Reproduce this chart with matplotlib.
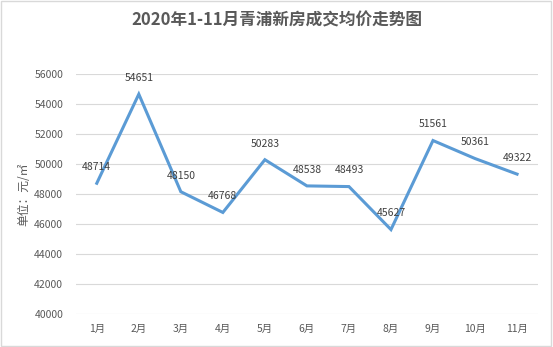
import matplotlib.pyplot as plt
from matplotlib.patches import Rectangle

plt.rcParams['font.family'] = ['Noto Sans CJK SC', 'DejaVu Sans']

months = ['1月', '2月', '3月', '4月', '5月', '6月', '7月', '8月', '9月', '10月', '11月']
prices = [48714, 54651, 48150, 46768, 50283, 48538, 48493, 45627, 51561, 50361, 49322]

fig = plt.figure(figsize=(5.53, 3.47), dpi=100)
ax = fig.add_axes([0.137, 0.095, 0.836, 0.692])

x = range(len(months))
ax.plot(x, prices, color='#5B9BD5', linewidth=2.2, solid_joinstyle='miter')
for i, v in zip(x, prices):
    ax.annotate(str(v), (i, v), xytext=(0, 8), textcoords='offset points',
                ha='center', va='bottom', fontsize=7.5, color='#404040')

ax.set_xlim(-0.5, len(months) - 0.5)
ax.set_ylim(40000, 56000)
ax.set_yticks(range(40000, 56001, 2000))
ax.set_xticks(list(x))
ax.set_xticklabels(months)
ax.tick_params(axis='both', length=0, labelsize=7.5, labelcolor='#595959')
ax.tick_params(axis='y', pad=9)
ax.tick_params(axis='x', pad=7)
ax.grid(axis='y', color='#D9D9D9', linewidth=0.8)
ax.set_axisbelow(True)
for s in ax.spines.values():
    s.set_visible(False)

ax.set_ylabel('单位：元/㎡', fontsize=8.5, color='#595959', labelpad=3)
fig.text(0.5, 0.94, '2020年1-11月青浦新房成交均价走势图', ha='center', va='center',
         fontsize=12, fontweight='bold', color='#595959')

fig.patches.append(Rectangle((0.002, 0.003), 0.995, 0.994, transform=fig.transFigure,
                             fill=False, edgecolor='#D9D9D9', linewidth=1))

fig.savefig('out.png', dpi=100)
